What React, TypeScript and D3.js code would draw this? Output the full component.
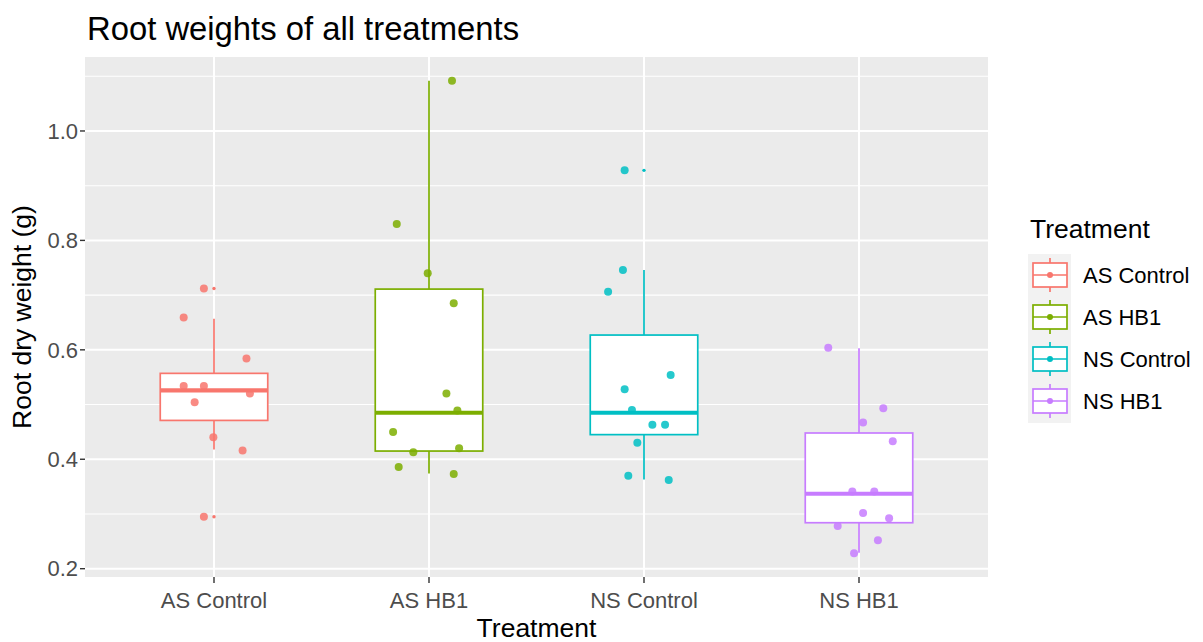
import React from "react";
import { scalePoint, scaleLinear, extent } from "d3";

const treatments = ["AS Control", "AS HB1", "NS Control", "NS HB1"];
const palette = ["#F8766D", "#7CAE00", "#00BFC4", "#C77CFF"];

// jittered observations (g) and horizontal jitter (fraction of the category step)
const asControlWeights = [0.712, 0.659, 0.584, 0.534, 0.534, 0.52, 0.504, 0.44, 0.416, 0.295];
const asControlJitter = [-0.047, -0.141, 0.151, -0.141, -0.047, 0.167, -0.09, -0.003, 0.133, -0.047];
const asHb1Weights = [1.092, 0.83, 0.74, 0.685, 0.52, 0.489, 0.45, 0.42, 0.413, 0.386, 0.373];
const asHb1Jitter = [0.107, -0.15, -0.006, 0.115, 0.081, 0.132, -0.167, 0.14, -0.073, -0.141, 0.115];
const nsControlWeights = [0.928, 0.746, 0.706, 0.554, 0.528, 0.49, 0.463, 0.463, 0.43, 0.37, 0.362];
const nsControlJitter = [-0.09, -0.098, -0.167, 0.124, -0.09, -0.056, 0.039, 0.098, -0.031, -0.073, 0.115];
const nsHb1Weights = [0.604, 0.493, 0.467, 0.433, 0.341, 0.341, 0.302, 0.292, 0.278, 0.252, 0.228];
const nsHb1Jitter = [-0.143, 0.113, 0.019, 0.157, -0.031, 0.071, 0.019, 0.14, -0.099, 0.088, -0.023];

// boxplot summaries per treatment
const whiskerLow = [0.418, 0.374, 0.363, 0.229];
const boxQ1 = [0.471, 0.415, 0.445, 0.284];
const boxMedian = [0.526, 0.485, 0.485, 0.337];
const boxQ3 = [0.557, 0.711, 0.627, 0.448];
const whiskerHigh = [0.657, 1.092, 0.746, 0.603];
const asControlOutliers = [0.712, 0.295];
const asHb1Outliers: number[] = [];
const nsControlOutliers = [0.928];
const nsHb1Outliers: number[] = [];

const yTicks = [0.2, 0.4, 0.6, 0.8, 1.0];
const yMinorTicks = [0.3, 0.5, 0.7, 0.9, 1.1];

const font = "'Liberation Sans', Arial, sans-serif";

export default function App() {
  const width = 1203,
    height = 642;
  const panel = { left: 85, right: 988, top: 57, bottom: 577 };

  const groups = [
    { w: asControlWeights, j: asControlJitter, o: asControlOutliers },
    { w: asHb1Weights, j: asHb1Jitter, o: asHb1Outliers },
    { w: nsControlWeights, j: nsControlJitter, o: nsControlOutliers },
    { w: nsHb1Weights, j: nsHb1Jitter, o: nsHb1Outliers }
  ].map((g, i) => ({ ...g, name: treatments[i], color: palette[i] }));

  const all = groups.flatMap(g => g.w);
  const [lo, hi] = extent(all) as [number, number];
  const pad = (hi - lo) * 0.05;

  const x = scalePoint<string>()
    .domain(treatments)
    .range([panel.left, panel.right])
    .padding(0.6);
  const step = x.step();
  const y = scaleLinear()
    .domain([lo - pad, hi + pad])
    .range([panel.bottom, panel.top]);

  const half = step * 0.25;

  return (
    <svg
      width={width}
      height={height}
      style={{ position: "absolute", left: 0, top: 0, background: "#fff" }}
      fontFamily={font}
    >
      <rect
        x={panel.left}
        y={panel.top}
        width={panel.right - panel.left}
        height={panel.bottom - panel.top}
        fill="#EBEBEB"
      />
      {yMinorTicks.map(t => (
        <line key={"m" + t} x1={panel.left} x2={panel.right} y1={y(t)} y2={y(t)} stroke="#fff" strokeWidth={1.1} />
      ))}
      {yTicks.map(t => (
        <line key={"g" + t} x1={panel.left} x2={panel.right} y1={y(t)} y2={y(t)} stroke="#fff" strokeWidth={2} />
      ))}
      {treatments.map(t => (
        <line key={"v" + t} x1={x(t)} x2={x(t)} y1={panel.top} y2={panel.bottom} stroke="#fff" strokeWidth={2} />
      ))}

      {groups.map((g, i) => {
        const cx = x(g.name) as number;
        return (
          <g key={"b" + g.name} stroke={g.color} strokeWidth={1.7}>
            <line x1={cx} x2={cx} y1={y(whiskerHigh[i])} y2={y(boxQ3[i])} />
            <line x1={cx} x2={cx} y1={y(boxQ1[i])} y2={y(whiskerLow[i])} />
            <rect
              x={cx - half}
              y={y(boxQ3[i])}
              width={half * 2}
              height={y(boxQ1[i]) - y(boxQ3[i])}
              fill="#fff"
            />
            {g.o.map((v, k) => (
              <circle key={k} cx={cx} cy={y(v)} r={1.7} fill={g.color} stroke="none" />
            ))}
          </g>
        );
      })}

      {groups.map(g => {
        const cx = x(g.name) as number;
        return (
          <g key={"p" + g.name} fill={g.color} fillOpacity={0.85}>
            {g.w.map((v, k) => (
              <circle key={k} cx={cx + g.j[k] * step} cy={y(v)} r={4} />
            ))}
          </g>
        );
      })}

      {groups.map((g, i) => {
        const cx = x(g.name) as number;
        return (
          <line
            key={"med" + g.name}
            x1={cx - half}
            x2={cx + half}
            y1={y(boxMedian[i])}
            y2={y(boxMedian[i])}
            stroke={g.color}
            strokeWidth={4.2}
          />
        );
      })}

      {/* axes */}
      {yTicks.map(t => (
        <g key={"yt" + t}>
          <line x1={panel.left - 5} x2={panel.left} y1={y(t)} y2={y(t)} stroke="#333" strokeWidth={1.4} />
          <text x={panel.left - 7} y={y(t)} dy="0.35em" textAnchor="end" fontSize={22} fill="#4D4D4D">
            {t.toFixed(1)}
          </text>
        </g>
      ))}
      {treatments.map(t => (
        <g key={"xt" + t}>
          <line x1={x(t)} x2={x(t)} y1={panel.bottom} y2={panel.bottom + 6} stroke="#333" strokeWidth={1.4} />
          <text x={x(t)} y={panel.bottom + 31} textAnchor="middle" fontSize={22} fill="#4D4D4D">
            {t}
          </text>
        </g>
      ))}
      <text x={(panel.left + panel.right) / 2} y={637} textAnchor="middle" fontSize={26.5} fill="#000">
        Treatment
      </text>
      <text
        transform={`translate(31, ${(panel.top + panel.bottom) / 2}) rotate(-90)`}
        textAnchor="middle"
        fontSize={26.5}
        fill="#000"
      >
        Root dry weight (g)
      </text>
      <text x={87} y={40} fontSize={32.8} fill="#000">
        Root weights of all treatments
      </text>

      {/* legend */}
      <text x={1030} y={238} fontSize={26.5} fill="#000">
        Treatment
      </text>
      <rect x={1028} y={254} width={43} height={169} fill="#F2F2F2" />
      {groups.map((g, i) => {
        const cy = 275 + i * 42;
        const kx = 1050;
        return (
          <g key={"lg" + g.name}>
            <g stroke={g.color} strokeWidth={1.7}>
              <line x1={kx} x2={kx} y1={cy - 17} y2={cy + 17} />
              <rect x={kx - 17} y={cy - 12} width={34} height={24} fill="#fff" />
              <line x1={kx - 17} x2={kx + 17} y1={cy} y2={cy} />
            </g>
            <circle cx={kx} cy={cy} r={3} fill={g.color} />
            <text x={1083} y={cy} dy="0.35em" fontSize={22} fill="#000">
              {g.name}
            </text>
          </g>
        );
      })}
    </svg>
  );
}
